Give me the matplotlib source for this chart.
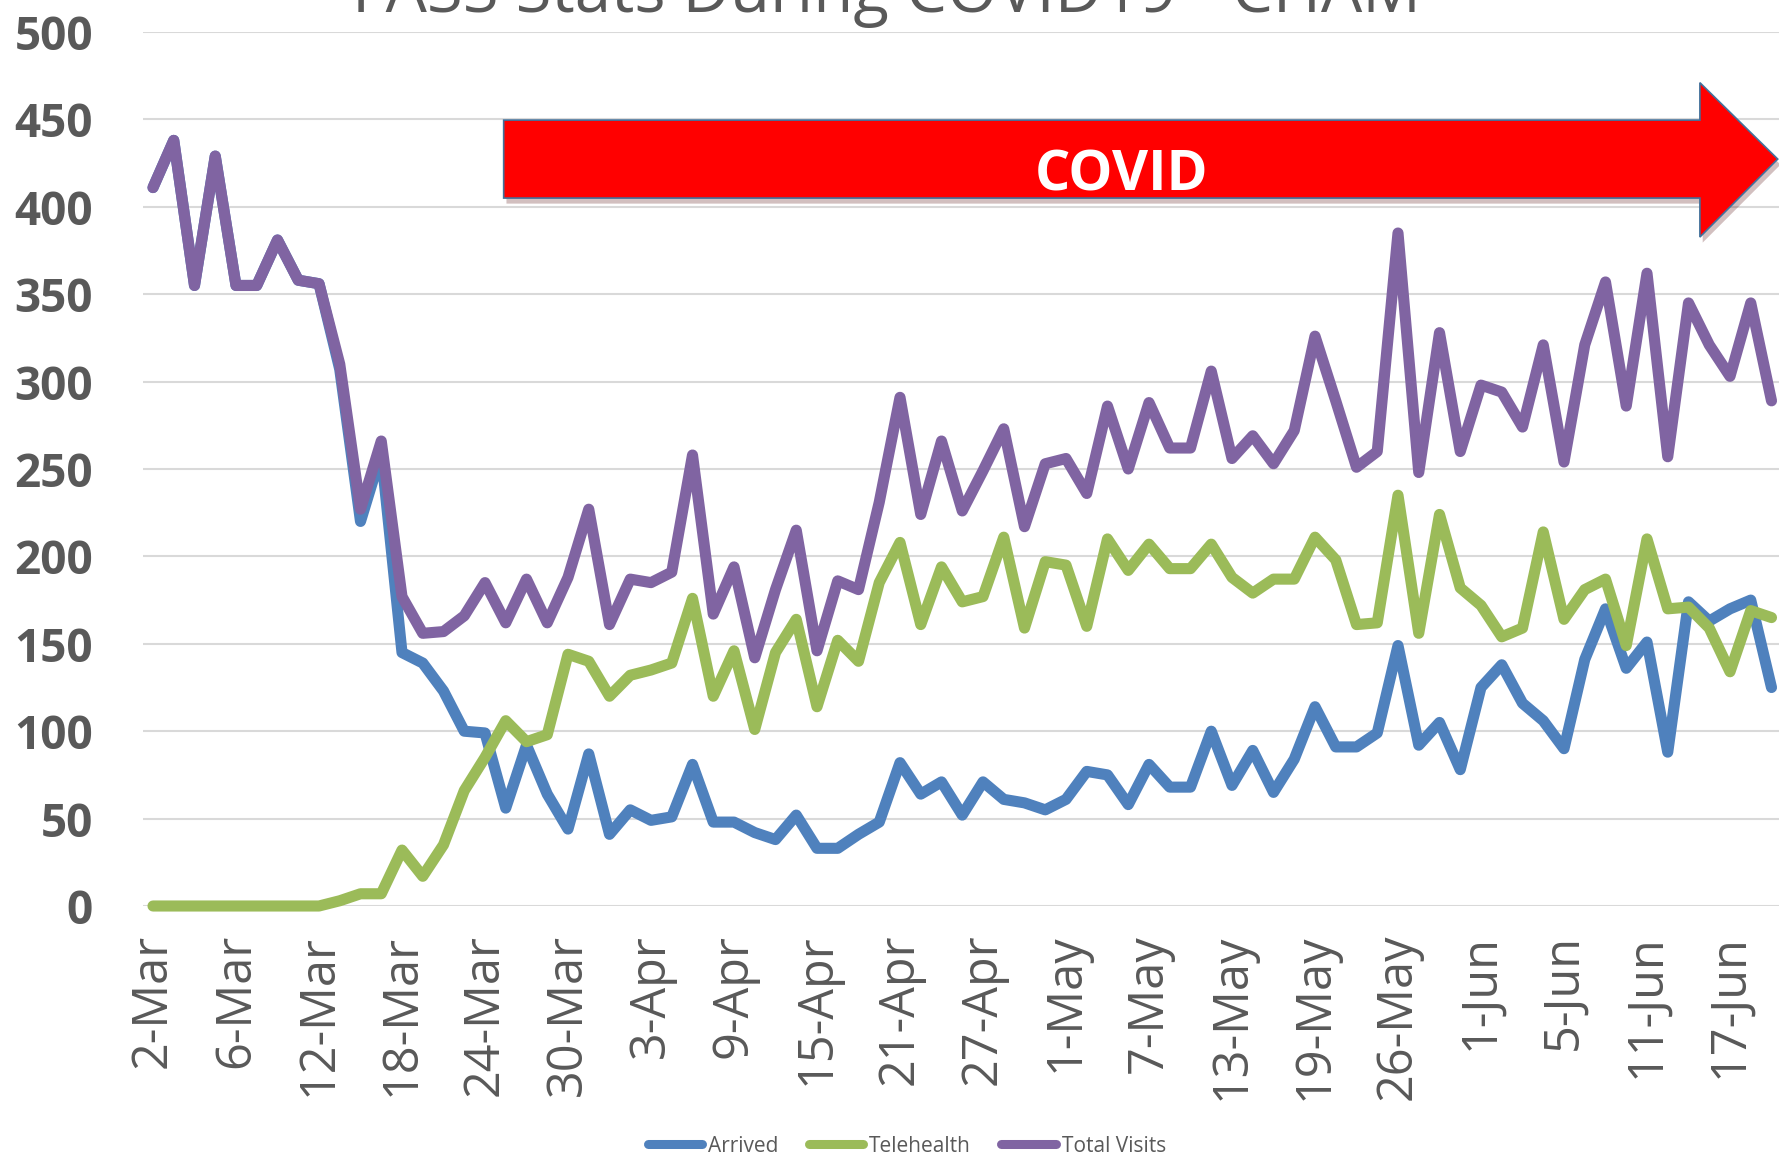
import matplotlib
matplotlib.use("Agg")
import matplotlib.pyplot as plt
from matplotlib.patches import Polygon
from matplotlib import patheffects as pe

# ---------------- data ----------------
dates = [
    "2-Mar", "3-Mar", "4-Mar", "5-Mar", "6-Mar", "9-Mar", "10-Mar", "11-Mar", "12-Mar", "13-Mar",
    "16-Mar", "17-Mar", "18-Mar", "19-Mar", "20-Mar", "23-Mar", "24-Mar", "25-Mar", "26-Mar", "27-Mar",
    "30-Mar", "31-Mar", "1-Apr", "2-Apr", "3-Apr", "6-Apr", "7-Apr", "8-Apr", "9-Apr", "10-Apr",
    "13-Apr", "14-Apr", "15-Apr", "16-Apr", "17-Apr", "20-Apr", "21-Apr", "22-Apr", "23-Apr", "24-Apr",
    "27-Apr", "28-Apr", "29-Apr", "30-Apr", "1-May", "4-May", "5-May", "6-May", "7-May", "8-May",
    "11-May", "12-May", "13-May", "14-May", "15-May", "18-May", "19-May", "20-May", "21-May", "22-May",
    "26-May", "27-May", "28-May", "29-May", "1-Jun", "2-Jun", "3-Jun", "4-Jun", "5-Jun", "8-Jun",
    "9-Jun", "10-Jun", "11-Jun", "12-Jun", "15-Jun", "16-Jun", "17-Jun", "18-Jun", "19-Jun",
]

arrived = [
    411, 438, 355, 429, 355, 355, 381, 358, 356, 307,
    220, 259, 145, 139, 123, 100, 99, 56, 92, 64,
    44, 87, 41, 55, 49, 51, 81, 48, 48, 42,
    38, 52, 33, 33, 41, 48, 82, 64, 71, 52,
    71, 61, 59, 55, 61, 77, 75, 58, 81, 68,
    68, 100, 69, 89, 65, 84, 114, 91, 91, 99,
    149, 92, 105, 78, 125, 138, 116, 106, 90, 141,
    170, 136, 151, 88, 174, 163, 170, 175, 125,
]

telehealth = [
    0, 0, 0, 0, 0, 0, 0, 0, 0, 3,
    7, 7, 32, 17, 35, 66, 85, 106, 94, 98,
    144, 140, 120, 132, 135, 139, 176, 120, 146, 101,
    145, 164, 114, 152, 140, 185, 208, 161, 194, 174,
    177, 211, 159, 197, 195, 160, 210, 192, 207, 193,
    193, 207, 188, 179, 187, 187, 211, 198, 161, 162,
    235, 156, 224, 182, 172, 154, 159, 214, 164, 181,
    187, 149, 210, 170, 171, 159, 134, 169, 165,
]

total_visits = [
    411, 438, 355, 429, 355, 355, 381, 358, 356, 310,
    227, 266, 177, 156, 157, 166, 185, 162, 187, 162,
    188, 227, 161, 187, 185, 191, 258, 167, 194, 142,
    181, 215, 146, 186, 181, 231, 291, 224, 266, 226,
    249, 273, 217, 253, 256, 236, 286, 250, 288, 262,
    262, 306, 256, 269, 253, 272, 326, 289, 251, 260,
    385, 248, 328, 260, 298, 294, 274, 321, 254, 321,
    357, 286, 362, 257, 345, 321, 303, 345, 289,
]

series_names = ["Arrived", "Telehealth", "Total Visits"]
y_ticks = [0, 50, 100, 150, 200, 250, 300, 350, 400, 450, 500]
title = "FASS Stats During COVID19 - CHAM"
banner_text = "COVID"

# ---------------- style ----------------
colors = ["#4F81BD", "#9BBB59", "#8064A2"]
text_gray = "#595959"
grid_gray = "#D9D9D9"
FONT = ["Open Sans", "DejaVu Sans"]

W, H = 1779, 1157
fig = plt.figure(figsize=(W / 100, H / 100), dpi=100)
fig.patch.set_facecolor("white")

ax_left_px, ax_right_px = 143, W
y0_px, y500_px = 906, 32
first_px, step_px = 153, 20.75
ax = fig.add_axes([ax_left_px / W, 1 - y0_px / H,
                   (ax_right_px - ax_left_px) / W, (y0_px - y500_px) / H])

x = list(range(len(dates)))
for vals, name, c in zip([arrived, telehealth, total_visits], series_names, colors):
    ax.plot(x, vals, color=c, lw=8, label=name, solid_capstyle="round",
            solid_joinstyle="round", clip_on=False, zorder=3)

ax.set_xlim((ax_left_px - first_px) / step_px, (ax_right_px - first_px) / step_px)
ax.set_ylim(0, 500)
ax.set_yticks(y_ticks)
ax.set_yticklabels([str(v) for v in y_ticks], fontsize=33, fontweight="bold",
                   color=text_gray, family=FONT)
ax.set_xticks(x[::4])
ax.set_xticklabels(dates[::4], rotation=90, fontsize=35, color=text_gray, family=FONT)
ax.tick_params(axis="x", length=0, pad=20)
ax.tick_params(axis="y", length=0, pad=36)
ax.grid(axis="y", color=grid_gray, lw=1.5)
ax.set_axisbelow(True)
for s in ax.spines.values():
    s.set_visible(False)

# COVID banner arrow (annotation, in data coordinates)
bx0, bx1, tip_x = 16.9, 74.55, 78.3
by0, by1, hy0, hy1, tip_y = 405, 449.6, 382.7, 471, 427.3
arrow = Polygon([(bx0, by0), (bx0, by1), (bx1, by1), (bx1, hy1), (tip_x, tip_y),
                 (bx1, hy0), (bx1, by0)], closed=True, facecolor="#FF0000",
                edgecolor="#41719C", lw=1.2, clip_on=False, zorder=5,
                path_effects=[pe.SimplePatchShadow(offset=(2, -4), alpha=0.25), pe.Normal()])
ax.add_patch(arrow)
ax.text(46.7, 409.6, banner_text, color="white", fontsize=40, fontweight="bold",
        ha="center", va="baseline", family=FONT, zorder=6)

# Title (partially cut at top as in reference)
fig.text(886 / W, 1 - 12.5 / H, title, ha="center", va="baseline", fontsize=47,
         color=text_gray, family=FONT)

# Legend
leg = fig.legend(loc="center", bbox_to_anchor=(907 / W, 1 - 1146 / H), ncol=3,
                 frameon=False, handlelength=2.6, handletextpad=0.3,
                 columnspacing=1.45, prop={"family": FONT, "size": 15})
for t in leg.get_texts():
    t.set_color(text_gray)
for h in leg.get_lines():
    h.set_linewidth(6.5)

fig.savefig("out.png", dpi=100, facecolor="white")
